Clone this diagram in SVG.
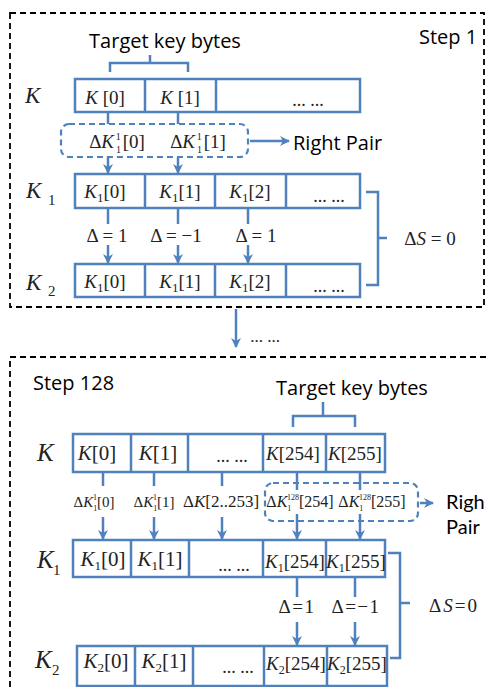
<svg xmlns="http://www.w3.org/2000/svg" width="486" height="687" viewBox="0 0 486 687">
<style>
.frame{fill:none;stroke:#000;stroke-width:1.8;stroke-dasharray:6,4}
.cell{fill:#fff;stroke:#4F81BD;stroke-width:2.5}
.blu{fill:none;stroke:#4F81BD;stroke-width:2.5}
.dsh{fill:none;stroke:#4F81BD;stroke-width:2.2;stroke-dasharray:6,4}
.lbl{font-family:"Open Sans","Liberation Sans",sans-serif;font-size:20px;fill:#000}
.lb2{font-family:Lato,"Liberation Sans",sans-serif;font-size:20px;fill:#000}
.m{font-family:"Liberation Serif",serif;fill:#222}
.it{font-style:italic}
</style>
<defs>
<marker id="ah" viewBox="0 0 10 10" refX="9" refY="5" markerWidth="4" markerHeight="4" orient="auto" markerUnits="strokeWidth">
<path d="M0,0 L10,5 L0,10 L3,5 z" fill="#4F81BD"/>
</marker>
</defs>

<!-- frames -->
<rect class="frame" x="10" y="13" width="474" height="294"/>
<rect class="frame" x="10" y="357" width="490" height="340"/>

<text class="lbl" x="419" y="44">Step 1</text>
<text class="lbl" x="33" y="390">Step 128</text>

<!-- Step 1 -->
<g id="target1">
<text class="lbl" x="165" y="48" text-anchor="middle">Target key bytes</text>
<path class="blu" d="M110,72 V63 H188 V72 M150,63 V55"/>
</g>
<g id="s1K">
<text class="m it" x="25" y="103" font-size="23">K</text>
<rect class="cell" x="75" y="79" width="285" height="33"/>
<path class="blu" d="M145,79 V112 M216,79 V112"/>
<text class="m" x="105" y="104" font-size="19" text-anchor="middle"><tspan class="it">K</tspan> [0]</text>
<text class="m" x="180" y="104" font-size="19" text-anchor="middle"><tspan class="it">K</tspan> [1]</text>
<text class="m" x="308" y="106" font-size="18" text-anchor="middle">... ...</text>
</g>
<g id="s1pair">
<rect class="dsh" x="61" y="124" width="187" height="33" rx="8"/>
<text class="m" x="117" y="148" font-size="19" text-anchor="middle">Δ<tspan class="it">K</tspan><tspan font-size="10" dx="2" dy="5">1</tspan><tspan font-size="10" dx="-5" dy="-13">1</tspan><tspan dx="2" dy="8">[0]</tspan></text>
<text class="m" x="198" y="148" font-size="19" text-anchor="middle">Δ<tspan class="it">K</tspan><tspan font-size="10" dx="2" dy="5">1</tspan><tspan font-size="10" dx="-5" dy="-13">1</tspan><tspan dx="2" dy="8">[1]</tspan></text>
<text class="lbl" x="293" y="150">Right Pair</text>
</g>
<g id="s1K1">
<text class="m it" x="26" y="198" font-size="23">K</text>
<text class="m" x="48" y="205" font-size="15">1</text>
<rect class="cell" x="75" y="174" width="285" height="34"/>
<path class="blu" d="M145,174 V208 M215,174 V208 M286,174 V208"/>
<text class="m" x="105" y="198" font-size="19" text-anchor="middle"><tspan class="it">K</tspan><tspan font-size="13" dy="4">1</tspan><tspan dy="-4">[0]</tspan></text>
<text class="m" x="180" y="198" font-size="19" text-anchor="middle"><tspan class="it">K</tspan><tspan font-size="13" dy="4">1</tspan><tspan dy="-4">[1]</tspan></text>
<text class="m" x="250" y="198" font-size="19" text-anchor="middle"><tspan class="it">K</tspan><tspan font-size="13" dy="4">1</tspan><tspan dy="-4">[2]</tspan></text>
<text class="m" x="329" y="202" font-size="18" text-anchor="middle">... ...</text>
</g>
<g id="s1K2">
<text class="m it" x="26" y="290" font-size="23">K</text>
<text class="m" x="48" y="296" font-size="15">2</text>
<rect class="cell" x="75" y="264" width="285" height="33"/>
<path class="blu" d="M145,264 V297 M215,264 V297 M286,264 V297"/>
<text class="m" x="105" y="288" font-size="19" text-anchor="middle"><tspan class="it">K</tspan><tspan font-size="13" dy="4">1</tspan><tspan dy="-4">[0]</tspan></text>
<text class="m" x="180" y="288" font-size="19" text-anchor="middle"><tspan class="it">K</tspan><tspan font-size="13" dy="4">1</tspan><tspan dy="-4">[1]</tspan></text>
<text class="m" x="250" y="288" font-size="19" text-anchor="middle"><tspan class="it">K</tspan><tspan font-size="13" dy="4">1</tspan><tspan dy="-4">[2]</tspan></text>
<text class="m" x="329" y="292" font-size="18" text-anchor="middle">... ...</text>
</g>
<g id="s1deltas">
<text class="m" x="107" y="242" font-size="19" text-anchor="middle">Δ  =  1</text>
<text class="m" x="176" y="242" font-size="19" text-anchor="middle">Δ  =  −1</text>
<text class="m" x="256" y="242" font-size="19" text-anchor="middle">Δ  =  1</text>
</g>
<g id="s1dS">
<path class="blu" d="M366,192 H378 V285 H366 M378,238 H387"/>
<text class="m" x="430" y="245" font-size="19" text-anchor="middle">Δ<tspan class="it">S</tspan>  =  0</text>
</g>

<!-- between -->
<g id="mid">
<text class="m" x="265" y="342" font-size="17" text-anchor="middle">... ...</text>
</g>

<!-- Step 128 -->
<g id="target2">
<text class="lbl" x="352" y="395" text-anchor="middle">Target key bytes</text>
<path class="blu" d="M293,427 V416 H355 V427 M323,416 V402"/>
</g>
<g id="s2K">
<text class="m it" x="37" y="461" font-size="25">K</text>
<rect class="cell" x="73" y="434" width="312" height="38"/>
<path class="blu" d="M131,434 V472 M188,434 V472 M263,434 V472 M326,434 V472"/>
<text class="m" x="97" y="460" font-size="21" text-anchor="middle"><tspan class="it">K</tspan>[0]</text>
<text class="m" x="158" y="460" font-size="21" text-anchor="middle"><tspan class="it">K</tspan>[1]</text>
<text class="m" x="232" y="462" font-size="18" text-anchor="middle">... ...</text>
<text class="m" x="293" y="460" font-size="19" text-anchor="middle"><tspan class="it">K</tspan>[254]</text>
<text class="m" x="355" y="460" font-size="19" text-anchor="middle"><tspan class="it">K</tspan>[255]</text>
</g>
<g id="s2pair">
<rect class="dsh" x="265" y="483" width="153" height="38" rx="8"/>
<text class="lb2" x="446" y="509" font-size="19">Righ</text>
<text class="lb2" x="446" y="534" font-size="19">Pair</text>
</g>
<g id="s2diffs">
<text class="m" x="94" y="507" font-size="15" text-anchor="middle">Δ<tspan class="it">K</tspan><tspan font-size="8" dy="4">1</tspan><tspan font-size="8" dx="-4" dy="-11">1</tspan><tspan dy="7">[0]</tspan></text>
<text class="m" x="154" y="507" font-size="15" text-anchor="middle">Δ<tspan class="it">K</tspan><tspan font-size="8" dy="4">1</tspan><tspan font-size="8" dx="-4" dy="-11">1</tspan><tspan dy="7">[1]</tspan></text>
<text class="m" x="221" y="507" font-size="17" text-anchor="middle">Δ<tspan class="it">K</tspan>[2..253]</text>
<text class="m" x="300" y="507" font-size="16" text-anchor="middle">Δ<tspan class="it">K</tspan><tspan font-size="8" dy="4">1</tspan><tspan font-size="8" dx="-4" dy="-11">128</tspan><tspan dy="7">[254]</tspan></text>
<text class="m" x="372" y="507" font-size="16" text-anchor="middle">Δ<tspan class="it">K</tspan><tspan font-size="8" dy="4">1</tspan><tspan font-size="8" dx="-4" dy="-11">128</tspan><tspan dy="7">[255]</tspan></text>
</g>
<g id="s2K1">
<text class="m it" x="37" y="568" font-size="25">K</text>
<text class="m" x="53" y="575" font-size="15">1</text>
<rect class="cell" x="73" y="540" width="312" height="37"/>
<path class="blu" d="M131,540 V577 M189,540 V577 M263,540 V577 M326,540 V577"/>
<text class="m" x="103" y="566" font-size="21" text-anchor="middle"><tspan class="it">K</tspan><tspan font-size="13" dy="4">1</tspan><tspan dy="-4">[0]</tspan></text>
<text class="m" x="160" y="566" font-size="21" text-anchor="middle"><tspan class="it">K</tspan><tspan font-size="13" dy="4">1</tspan><tspan dy="-4">[1]</tspan></text>
<text class="m" x="234" y="571" font-size="18" text-anchor="middle">... ...</text>
<text class="m" x="295" y="568" font-size="19" text-anchor="middle"><tspan class="it">K</tspan><tspan font-size="12" dy="4">1</tspan><tspan dy="-4">[254]</tspan></text>
<text class="m" x="356" y="568" font-size="19" text-anchor="middle"><tspan class="it">K</tspan><tspan font-size="12" dy="4">1</tspan><tspan dy="-4">[255]</tspan></text>
</g>
<g id="s2K2">
<text class="m it" x="35" y="668" font-size="25">K</text>
<text class="m" x="52" y="675" font-size="15">2</text>
<rect class="cell" x="77" y="646" width="310" height="40"/>
<path class="blu" d="M135,646 V686 M193,646 V686 M264,646 V686 M327,646 V686"/>
<text class="m" x="106" y="668" font-size="21" text-anchor="middle"><tspan class="it">K</tspan><tspan font-size="13" dy="4">2</tspan><tspan dy="-4">[0]</tspan></text>
<text class="m" x="164" y="668" font-size="21" text-anchor="middle"><tspan class="it">K</tspan><tspan font-size="13" dy="4">2</tspan><tspan dy="-4">[1]</tspan></text>
<text class="m" x="238" y="673" font-size="18" text-anchor="middle">... ...</text>
<text class="m" x="296" y="670" font-size="19" text-anchor="middle"><tspan class="it">K</tspan><tspan font-size="12" dy="4">2</tspan><tspan dy="-4">[254]</tspan></text>
<text class="m" x="357" y="670" font-size="19" text-anchor="middle"><tspan class="it">K</tspan><tspan font-size="12" dy="4">2</tspan><tspan dy="-4">[255]</tspan></text>
</g>
<g id="s2deltas">
<text class="m" x="297" y="613" font-size="19" letter-spacing="1.5" text-anchor="middle">Δ=1</text>
<text class="m" x="356" y="613" font-size="19" letter-spacing="1.5" text-anchor="middle">Δ=−1</text>
</g>
<g id="s2dS">
<path class="blu" d="M388,553 H400 V658 H390 M400,603 H410"/>
<text class="m" x="454" y="612" font-size="19" letter-spacing="2" text-anchor="middle">Δ<tspan class="it">S</tspan>=0</text>
</g>

<!-- connectors -->
<g id="connectors" fill="none" stroke="#4F81BD" stroke-width="2.5">
<path d="M108,112 V124 M178,112 V124"/>
<path d="M108,157 V173" marker-end="url(#ah)"/>
<path d="M178,157 V173" marker-end="url(#ah)"/>
<path d="M250,141 H289" marker-end="url(#ah)"/>
<path d="M108,208 V224 M178,208 V224 M248,208 V224"/>
<path d="M108,245 V263" marker-end="url(#ah)"/>
<path d="M178,245 V263" marker-end="url(#ah)"/>
<path d="M248,245 V263" marker-end="url(#ah)"/>
<path d="M236,309 V347" marker-end="url(#ah)"/>
<path d="M103,472 V486 M154,472 V486 M222,472 V486 M297,472 V490 M360,472 V490"/>
<path d="M103,517 V539" marker-end="url(#ah)"/>
<path d="M154,517 V539" marker-end="url(#ah)"/>
<path d="M222,517 V539" marker-end="url(#ah)"/>
<path d="M297,514 V539" marker-end="url(#ah)"/>
<path d="M360,514 V539" marker-end="url(#ah)"/>
<path d="M420,503 H433" marker-end="url(#ah)"/>
<path d="M297,577 V597 M355,577 V597"/>
<path d="M297,622 V645" marker-end="url(#ah)"/>
<path d="M355,622 V645" marker-end="url(#ah)"/>
</g>
</svg>
